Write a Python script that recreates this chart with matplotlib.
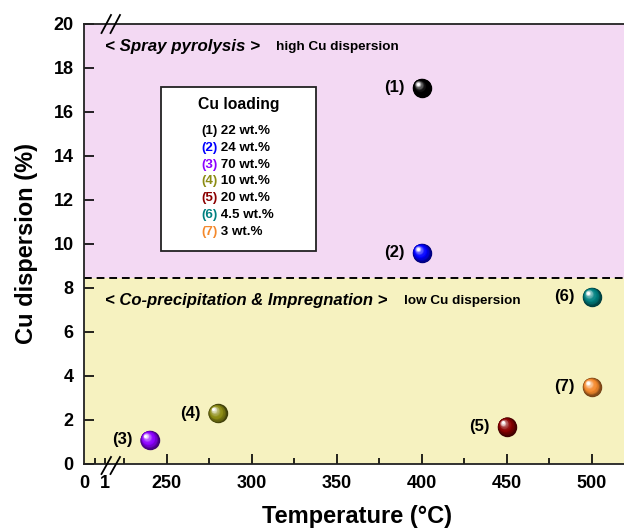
import matplotlib
matplotlib.use('Agg')
import matplotlib.pyplot as plt
import matplotlib.transforms as mtransforms
from matplotlib.colors import to_rgb
from matplotlib.lines import Line2D
from matplotlib.patches import Rectangle
from matplotlib.text import Annotation
import numpy as np

plt.rcParams['font.family'] = ['Liberation Sans', 'DejaVu Sans']
plt.rcParams['font.weight'] = 'bold'

# samples: calcination temperature (C), Cu dispersion (%), Cu loading
sample_ids = ['(1)', '(2)', '(3)', '(4)', '(5)', '(6)', '(7)']
temperature = [400, 400, 240, 280, 450, 500, 500]
dispersion = [17.1, 9.6, 1.1, 2.3, 1.7, 7.6, 3.5]
loading = ['22 wt.%', '24 wt.%', '70 wt.%', '10 wt.%', '20 wt.%', '4.5 wt.%', '3 wt.%']
colors = ['#000000', '#0000ff', '#8c00ff', '#8c8c14', '#8b0000', '#008080', '#f4892c']

boundary = 8.45
xticks_major = [250, 300, 350, 400, 450, 500]
xticks_minor = [207.7, 225, 275, 325, 375, 425, 475, 525]
yticks = [0, 2, 4, 6, 8, 10, 12, 14, 16, 18, 20]

W, H = 624, 529
fig = plt.figure(figsize=(W / 100, H / 100), dpi=100)
ax = fig.add_axes([84 / W, 65 / H, 576 / W, 440 / H])
ax.set_xlim(201.4, 540)
ax.set_ylim(0, 20)


def px(x, y):
    return x / W, 1 - y / H


# shaded regions and divider
ax.axhspan(boundary, 20, color='#f3d9f3', zorder=0, lw=0)
ax.axhspan(0, boundary, color='#f6f2c0', zorder=0, lw=0)
ax.axhline(boundary, color='black', lw=1.4, ls=(0, (4, 2.5)), zorder=1)


def sphere(x, y, c, size=14):
    base = np.array(to_rgb(c))
    dark = base * 0.45
    n = 16
    for k in range(n):
        t = k / (n - 1)
        d = size * (1 - 0.85 * t)
        off = size * 0.22 * t
        tr = ax.transData + mtransforms.ScaledTranslation(-off / 72, off / 72, fig.dpi_scale_trans)
        if t < 0.4:
            col = dark + (base - dark) * (t / 0.4)
        else:
            u = (t - 0.4) / 0.6
            col = base + (np.ones(3) - base) * (u ** 1.8)
        ax.scatter([x], [y], s=d ** 2, color=np.clip(col, 0, 1), lw=0,
                   transform=tr, zorder=3 + k * 0.01)


for sid, xv, yv, c in zip(sample_ids, temperature, dispersion, colors):
    sphere(xv, yv, c)
    ax.annotate(sid, (xv, yv), xytext=(-12.5, 0), textcoords='offset points',
                ha='right', va='center', fontsize=12, fontweight='bold')

# axes styling
for side in ['left', 'bottom', 'top']:
    ax.spines[side].set_linewidth(1.3)
    ax.spines[side].set_color('#222222')
ax.spines['right'].set_visible(False)

ax.set_xticks([201.4, 213.8] + xticks_major)
ax.set_xticklabels(['0', '1'] + [str(v) for v in xticks_major])
ax.set_xticks(xticks_minor, minor=True)
ax.set_yticks(yticks)
ax.tick_params(axis='both', which='major', direction='in', length=7, width=1.2,
               labelsize=13, pad=8)
ax.tick_params(axis='x', which='minor', direction='in', length=4, width=1.2)
ax.tick_params(axis='y', which='both', right=False)
ax.tick_params(axis='y', pad=7.5)
xt = ax.xaxis.get_major_ticks()
xt[0].tick1line.set_visible(False)
xt[1].tick1line.set_markersize(4)
for lab in ax.get_xticklabels() + ax.get_yticklabels():
    lab.set_fontweight('bold')

ax.set_xlabel('Temperature (°C)', fontsize=17, fontweight='bold')
ax.xaxis.set_label_coords((357 - 84) / 576, -0.094)
ax.set_ylabel('Cu dispersion (%)', fontsize=17, fontweight='bold', labelpad=11)

# axis break marks
for y0, y1 in [(33, 15), (474, 457)]:
    for x0 in [101.5, 110.5]:
        a = px(x0, y0)
        b = px(x0 + 9.5, y1)
        fig.add_artist(Line2D([a[0], b[0]], [a[1], b[1]], color='black', lw=1.3))

# region captions
fig.text(*px(105, 47), '< Spray pyrolysis >', fontsize=12.2, fontstyle='italic',
         fontweight='bold', va='center')
fig.text(*px(276, 47), 'high Cu dispersion', fontsize=9.7, fontweight='bold', va='center')
fig.text(*px(105, 300), '< Co-precipitation & Impregnation >', fontsize=12,
         fontstyle='italic', fontweight='bold', va='center')
fig.text(*px(404, 301), 'low Cu dispersion', fontsize=9.7, fontweight='bold', va='center')

# loading key box
bx0, by0 = px(161, 251)
bx1, by1 = px(316, 87)
fig.add_artist(Rectangle((bx0, by0), bx1 - bx0, by1 - by0, transform=fig.transFigure,
                         facecolor='white', edgecolor='#222222', lw=1.3, zorder=5))
fig.text(*px(238.5, 104), 'Cu loading', fontsize=11.3, fontweight='bold',
         ha='center', va='center', zorder=6)
for i, (sid, load, c) in enumerate(zip(sample_ids, loading, colors)):
    yy = 131 + i * 16.8
    t = fig.text(*px(201, yy), sid, fontsize=9.6, fontweight='bold', color=c,
                 va='center', zorder=6)
    fig.add_artist(Annotation(' ' + load, xy=(1, 0.5), xycoords=t, ha='left',
                              va='center', fontsize=9.6, fontweight='bold',
                              color='black', zorder=6))

fig.savefig('out.png', dpi=100)
